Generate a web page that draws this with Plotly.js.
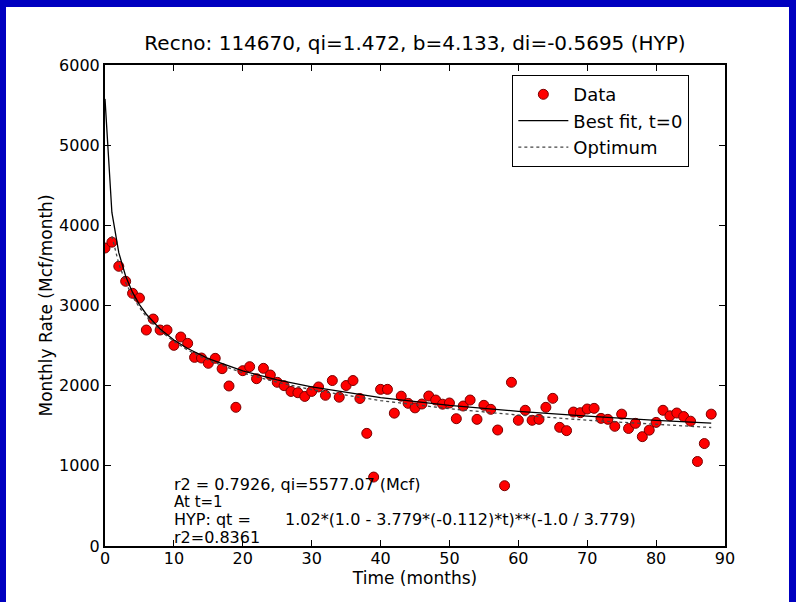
<!DOCTYPE html>
<html><head><meta charset="utf-8">
<script src="https://cdn.plot.ly/plotly-3.0.1.min.js"></script>
<style>
html,body{margin:0;padding:0;background:#0000c0;width:796px;height:602px;overflow:hidden;}
#chart{position:absolute;left:6px;top:7px;width:783px;height:595px;background:#fff;}
</style></head><body><div id="chart"></div>
<script>
const months = [0,1,2,3,4,5,6,7,8,9,10,11,12,13,14,15,16,17,18,19,20,21,22,23,24,25,26,27,28,29,30,31,32,33,34,35,36,37,38,39,40,41,42,43,44,45,46,47,48,49,50,51,52,53,54,55,56,57,58,59,60,61,62,63,64,65,66,67,68,69,70,71,72,73,74,75,76,77,78,79,80,81,82,83,84,85,86,87,88];
const rate = [3717,3790,3489,3302,3152,3093,2694,2831,2694,2694,2503,2607,2528,2353,2345,2279,2341,2212,1996,1730,2187,2237,2087,2216,2133,2042,2000,1928,1912,1866,1928,1984,1880,2064,1856,2002,2064,1840,1405,860,1954,1954,1657,1869,1780,1723,1771,1871,1821,1769,1784,1588,1746,1821,1580,1755,1705,1447,752,2042,1568,1693,1568,1580,1730,1842,1480,1439,1671,1663,1709,1717,1592,1580,1493,1645,1466,1530,1364,1445,1542,1693,1624,1659,1615,1557,1054,1278,1645];
const fitMonths = [0,1,2,3,4,5,6,8,10,12,15,20,25,30,40,50,60,70,80,88];
const bestFit = [5577,4161,3659,3366,3163,3011,2891,2707,2570,2464,2338,2185,2071,1984,1852,1755,1680,1619,1568,1533];
const optMonths = [1,2,3,4,5,6,8,10,12,15,20,25,30,40,50,60,70,80,88];
const optimum = [3866,3521,3287,3112,2975,2862,2686,2552,2444,2317,2159,2042,1950,1813,1712,1633,1569,1516,1478];
const xTicks = [0,10,20,30,40,50,60,70,80,90];
const yTicks = [0,1000,2000,3000,4000,5000,6000];

const F = '"DejaVu Sans", "Bitstream Vera Sans", sans-serif';

const traces = [
  {x: months, y: rate, type: 'scatter', mode: 'markers', name: 'Data',
   marker: {color: '#ff0000', size: 10, line: {color: '#7a0000', width: 1}}},
  {x: fitMonths, y: bestFit, type: 'scatter', mode: 'lines', name: 'Best fit, t=0',
   line: {color: '#000000', width: 1.3}},
  {x: optMonths, y: optimum, type: 'scatter', mode: 'lines', name: 'Optimum',
   line: {color: '#444444', width: 1.3, dash: 'dot'}}
];

const axisCommon = {
  showgrid: false, zeroline: false, showline: true, linecolor: '#000', linewidth: 2,
  mirror: 'ticks', ticks: 'inside', ticklen: 6, tickwidth: 1, tickcolor: '#000',
  tickfont: {family: F, size: 16, color: '#000'}
};

const layout = {
  width: 783, height: 595,
  margin: {l: 99, r: 64, t: 58, b: 56},
  paper_bgcolor: '#ffffff', plot_bgcolor: '#ffffff',
  font: {family: F, color: '#000'},
  title: {text: 'Recno: 114670, qi=1.472, b=4.133, di=-0.5695 (HYP)',
          font: {family: F, size: 20, color: '#000'},
          x: 0.5, xref: 'paper', xanchor: 'center', y: 0.94, yref: 'container', yanchor: 'middle'},
  xaxis: Object.assign({}, axisCommon, {
    range: [0, 90], tickvals: xTicks, ticktext: xTicks.map(String), ticklabelstandoff: -3,
    title: {text: 'Time (months)', font: {family: F, size: 17, color: '#000'}, standoff: 1}
  }),
  yaxis: Object.assign({}, axisCommon, {
    range: [0, 6000], tickvals: yTicks, ticktext: yTicks.map(String),
    title: {text: 'Monthly Rate (Mcf/month)', font: {family: F, size: 17, color: '#000'}, standoff: 2}
  }),
  showlegend: true,
  legend: {x: 0.657, y: 0.979, xanchor: 'left', yanchor: 'top',
           bgcolor: '#fff', bordercolor: '#000', borderwidth: 1,
           itemwidth: 50, entrywidth: 196, entrywidthmode: 'pixels',
           font: {family: F, size: 18, color: '#000'}, tracegroupgap: 0},
  annotations: [
    {x: 9.7, y: 773, xref: 'x', yref: 'y', xanchor: 'left', yanchor: 'middle', showarrow: false,
     text: 'r2 = 0.7926, qi=5577.07 (Mcf)', font: {family: F, size: 16, color: '#000'}},
    {x: 9.7, y: 552, xref: 'x', yref: 'y', xanchor: 'left', yanchor: 'middle', showarrow: false,
     text: 'At t=1', font: {family: F, size: 15, color: '#000'}},
    {x: 9.7, y: 330, xref: 'x', yref: 'y', xanchor: 'left', yanchor: 'middle', showarrow: false,
     text: 'HYP: qt =', font: {family: F, size: 16, color: '#000'}},
    {x: 25.9, y: 330, xref: 'x', yref: 'y', xanchor: 'left', yanchor: 'middle', showarrow: false,
     text: '1.02*(1.0 - 3.779*(-0.112)*t)**(-1.0 / 3.779)', font: {family: F, size: 16, color: '#000'}},
    {x: 9.7, y: 100, xref: 'x', yref: 'y', xanchor: 'left', yanchor: 'middle', showarrow: false,
     text: 'r2=0.8361', font: {family: F, size: 16, color: '#000'}}
  ]
};

Plotly.newPlot('chart', traces, layout, {displayModeBar: false, staticPlot: true});
</script></body></html>
